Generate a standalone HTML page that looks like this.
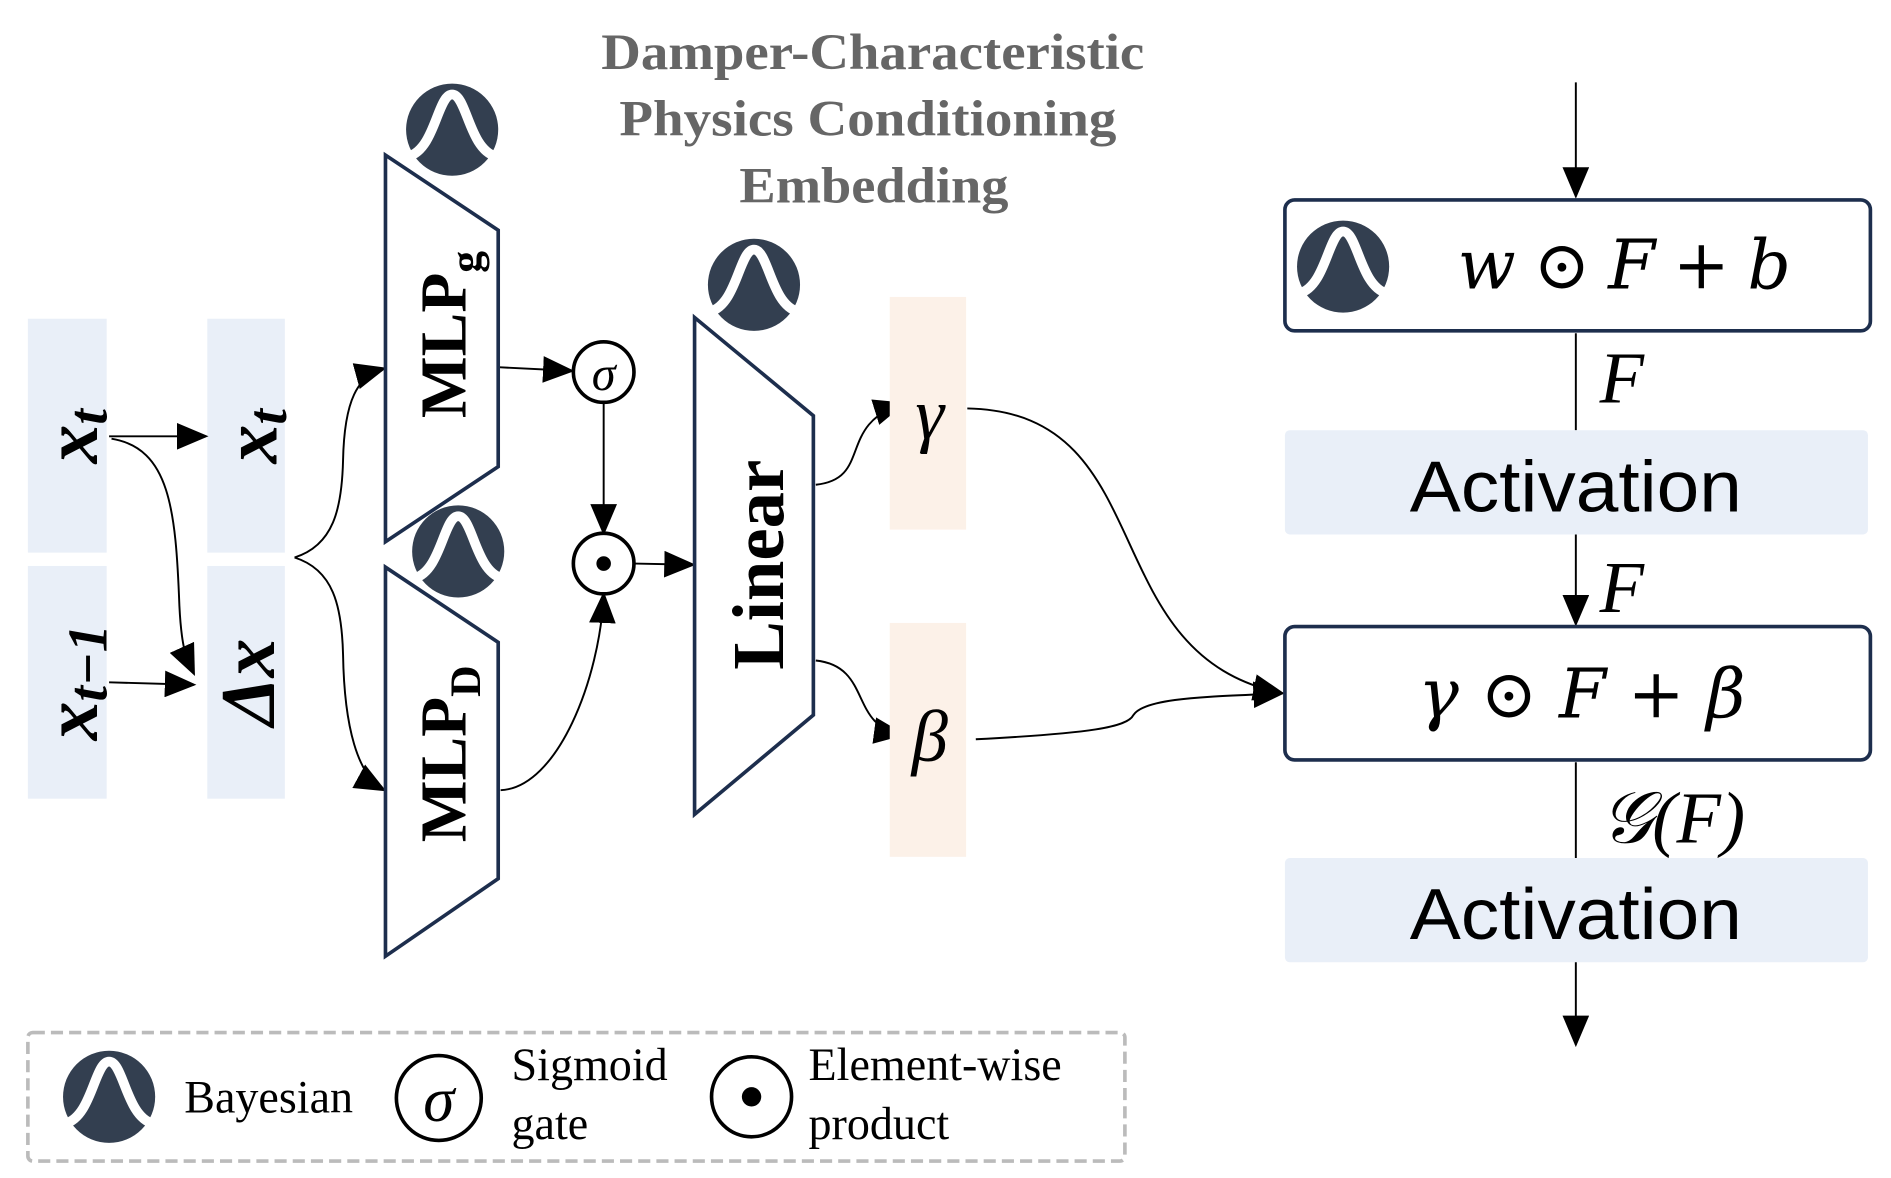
<!DOCTYPE html>
<html><head><meta charset="utf-8"><style>html,body{margin:0;padding:0;background:#fff;width:1891px;height:1178px;overflow:hidden}</style></head>
<body>
<svg width="1891" height="1178" viewBox="0 0 1560 972" preserveAspectRatio="none" xmlns="http://www.w3.org/2000/svg">
<defs>
<marker id="ab" markerWidth="26" markerHeight="22" refX="24" refY="11" orient="auto" markerUnits="userSpaceOnUse"><path d="M0,0 L26,11 L0,22 z" fill="#000"/></marker>
<g id="bay"><circle r="38" fill="#333f50"/><path d="M-36,22 C-14,16 -12,-29 0,-29 C12,-29 14,16 36,22" fill="none" stroke="#fff" stroke-width="8"/></g>
</defs>
<g font-family="Liberation Serif, serif">
<text x="720" y="57" font-size="42" font-weight="bold" fill="#666" text-anchor="middle" textLength="448" lengthAdjust="spacingAndGlyphs">Damper-Characteristic</text>
<text x="716" y="112" font-size="42" font-weight="bold" fill="#666" text-anchor="middle" textLength="410" lengthAdjust="spacingAndGlyphs">Physics Conditioning</text>
<text x="721" y="167" font-size="42" font-weight="bold" fill="#666" text-anchor="middle" textLength="222" lengthAdjust="spacingAndGlyphs">Embedding</text>

<rect x="23" y="263" width="65" height="193" fill="#e9eff8"/>
<rect x="23" y="467" width="65" height="192" fill="#e9eff8"/>
<rect x="171" y="263" width="64" height="193" fill="#e9eff8"/>
<rect x="171" y="467" width="64" height="192" fill="#e9eff8"/>
<text transform="translate(80,360) rotate(-90)" font-size="64" font-weight="bold" font-style="italic" text-anchor="middle">x<tspan font-size="46" dy="8">t</tspan></text>
<text transform="translate(80,563) rotate(-90)" font-size="64" font-weight="bold" font-style="italic" text-anchor="middle">x<tspan font-size="46" dy="8">t−1</tspan></text>
<text transform="translate(228,360) rotate(-90)" font-size="64" font-weight="bold" font-style="italic" text-anchor="middle">x<tspan font-size="46" dy="8">t</tspan></text>
<text transform="translate(226,563) rotate(-90)" font-size="64" font-weight="bold" font-style="italic" text-anchor="middle">Δx</text>

<g fill="none" stroke="#000" stroke-width="1.6">
<path d="M90,360 L170,360" marker-end="url(#ab)"/>
<path d="M90,563 L160,565" marker-end="url(#ab)"/>
<path d="M92,362 C140,370 145,420 148,500 C150,540 155,545 160,556" marker-end="url(#ab)"/>
<path d="M243,460 C275,450 282,420 283,380 C284,330 295,310 317,304" marker-end="url(#ab)"/>
<path d="M243,460 C275,470 282,500 283,540 C284,600 295,640 317,652" marker-end="url(#ab)"/>
<path d="M411,303 L472,306" marker-end="url(#ab)"/>
<path d="M498,332 L498,440" marker-end="url(#ab)"/>
<path d="M413,652 C460,650 495,560 498,490" marker-end="url(#ab)"/>
<path d="M523,465 L572,466" marker-end="url(#ab)"/>
<path d="M673,400 C720,395 690,350 745,333" marker-end="url(#ab)"/>
<path d="M673,545 C720,550 700,600 745,606" marker-end="url(#ab)"/>
<path d="M798,337 C960,340 900,540 1058,572" marker-end="url(#ab)"/>
<path d="M805,610 C900,605 930,600 935,590 C945,575 1000,575 1058,572" marker-end="url(#ab)"/>
<path d="M1300,68 L1300,162" marker-end="url(#ab)"/>
<path d="M1300,275 L1300,355"/>
<path d="M1300,441 L1300,515" marker-end="url(#ab)"/>
<path d="M1300,629 L1300,708"/>
<path d="M1300,793 L1300,862" marker-end="url(#ab)"/>
</g>

<polygon points="318,128 411,190 411,385 318,447" fill="#fff" stroke="#1d2e4d" stroke-width="3"/>
<polygon points="318,468 411,530 411,725 318,789" fill="#fff" stroke="#1d2e4d" stroke-width="3"/>
<polygon points="573,262 671,343 671,590 573,672" fill="#fff" stroke="#1d2e4d" stroke-width="3"/>
<text transform="translate(384,276) rotate(-90)" font-size="54" font-weight="bold" text-anchor="middle">MLP<tspan font-size="36" dy="12">g</tspan></text>
<text transform="translate(384,622) rotate(-90)" font-size="54" font-weight="bold" text-anchor="middle">MLP<tspan font-size="36" dy="12">D</tspan></text>
<text transform="translate(646,466) rotate(-90)" font-size="60" font-weight="bold" text-anchor="middle">Linear</text>

<use href="#bay" x="373" y="107"/>
<use href="#bay" x="378" y="455"/>
<use href="#bay" x="622" y="235"/>

<circle cx="498" cy="307" r="25" fill="#fff" stroke="#000" stroke-width="3"/>
<text x="498" y="322" font-size="40" font-style="italic" text-anchor="middle">σ</text>
<circle cx="498" cy="465" r="25" fill="#fff" stroke="#000" stroke-width="3"/>
<circle cx="498" cy="465" r="6" fill="#000"/>

<rect x="734" y="245" width="63" height="192" fill="#fcf1e8"/>
<rect x="734" y="514" width="63" height="193" fill="#fcf1e8"/>
<text x="767" y="362" font-size="60" font-style="italic" text-anchor="middle">γ</text>
<text x="767" y="628" font-size="60" font-style="italic" text-anchor="middle">β</text>

<rect x="1060" y="165" width="483" height="108" rx="8" fill="#fff" stroke="#1d2e4d" stroke-width="3"/>
<use href="#bay" x="1108" y="220"/>
<text x="1340" y="238" font-size="56" font-style="italic" text-anchor="middle" font-family="DejaVu Serif, serif" textLength="275">w ⊙ F + b</text>
<rect x="1060" y="355" width="481" height="86" rx="4" fill="#e9eff8"/>
<text x="1300" y="422" font-size="60" font-family="Liberation Sans, sans-serif" text-anchor="middle" textLength="274" lengthAdjust="spacingAndGlyphs">Activation</text>
<rect x="1060" y="517" width="483" height="110" rx="8" fill="#fff" stroke="#1d2e4d" stroke-width="3"/>
<text x="1305" y="592" font-size="56" font-style="italic" text-anchor="middle" font-family="DejaVu Serif, serif" textLength="270">γ ⊙ F + β</text>
<rect x="1060" y="708" width="481" height="86" rx="4" fill="#e9eff8"/>
<text x="1300" y="775" font-size="60" font-family="Liberation Sans, sans-serif" text-anchor="middle" textLength="274" lengthAdjust="spacingAndGlyphs">Activation</text>
<text x="1338" y="332" font-size="60" font-style="italic" text-anchor="middle">F</text>
<text x="1338" y="505" font-size="60" font-style="italic" text-anchor="middle">F</text>
<text x="1380" y="695" font-size="60" font-style="italic" text-anchor="middle">𝒢(F)</text>

<rect x="23" y="852" width="905" height="106" rx="4" fill="none" stroke="#bbb" stroke-width="3" stroke-dasharray="10,5"/>
<use href="#bay" x="90" y="905"/>
<text x="152" y="918" font-size="38">Bayesian</text>
<circle cx="362" cy="906" r="35" fill="none" stroke="#000" stroke-width="3"/>
<text x="362" y="925" font-size="52" font-style="italic" text-anchor="middle">σ</text>
<text x="422" y="891" font-size="38">Sigmoid</text>
<text x="422" y="940" font-size="38">gate</text>
<circle cx="620" cy="905" r="33" fill="none" stroke="#000" stroke-width="3"/>
<circle cx="620" cy="905" r="8" fill="#000"/>
<text x="667" y="891" font-size="38">Element-wise</text>
<text x="667" y="940" font-size="38">product</text>
</g>
</svg>
</body></html>
